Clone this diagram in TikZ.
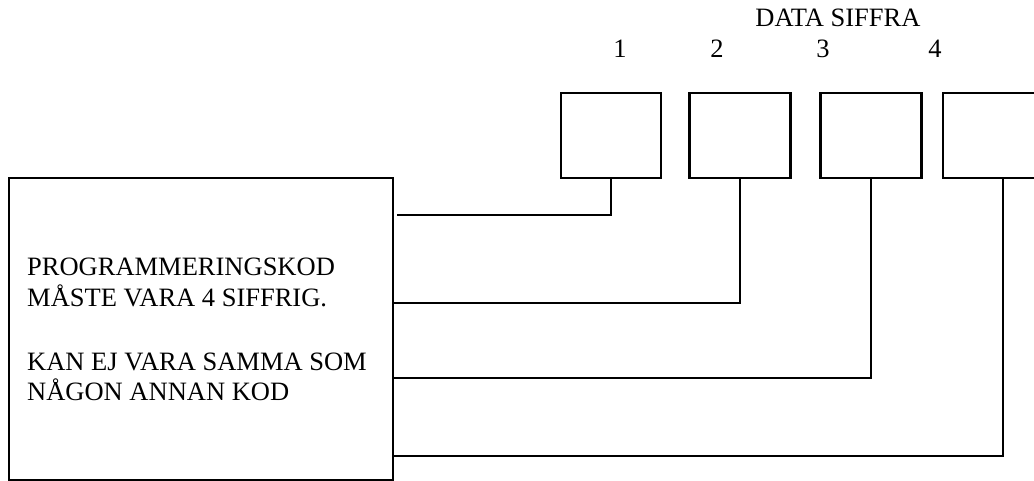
\documentclass[tikz,border=0pt]{standalone}
\usepackage{fontspec}
\setmainfont{Liberation Serif}
\begin{document}
\begin{tikzpicture}[x=1pt,y=-1pt,
  every node/.style={font=\fontsize{26.5}{30}\selectfont},
  box/.style={draw, line width=2.5pt, inner sep=0pt, outer sep=0pt},
  wire/.style={line width=2.5pt},
  lbl/.style={inner sep=0pt, anchor=base}]
\useasboundingbox (0,0) rectangle (1034,481);
% main box
\node[box, minimum width=384pt, minimum height=302pt] (main) at (201,329) {};
\node[lbl, anchor=base west] (t1) at (27,276) {PROGRAMMERINGSKOD};
\node[lbl, anchor=base west] (t2) at (27,306) {MÅSTE VARA 4 SIFFRIG.};
\node[lbl, anchor=base west] (t3) at (27,370) {KAN EJ VARA SAMMA SOM};
\node[lbl, anchor=base west] (t4) at (27,400) {NÅGON ANNAN KOD};
% digit boxes
\node[box, minimum width=100pt, minimum height=85pt] (d1) at (611,135.5) {};
\node[box, minimum width=101pt, minimum height=85pt] (d2) at (740,135.5) {};
\node[box, minimum width=101pt, minimum height=85pt] (d3) at (871,135.5) {};
\node[box, minimum width=120pt, minimum height=85pt] (d4) at (1003,135.5) {};
% labels
\node[lbl] (title) at (838,27) {DATA SIFFRA};
\node[lbl] (n1) at (620,58) {1};
\node[lbl] (n2) at (717,58) {2};
\node[lbl] (n3) at (823,58) {3};
\node[lbl] (n4) at (935,58) {4};
% connector start points
\coordinate (s1) at (397,215);
\coordinate (s2) at (main.east |- 0,303);
\coordinate (s3) at (main.east |- 0,378);
\coordinate (s4) at (main.east |- 0,456);
\draw[wire] (s1) -| (d1.south);
\draw[wire] (s2) -| (d2.south);
\draw[wire] (s3) -| (d3.south);
\draw[wire] (s4) -| (d4.south);
\end{tikzpicture}
\end{document}
